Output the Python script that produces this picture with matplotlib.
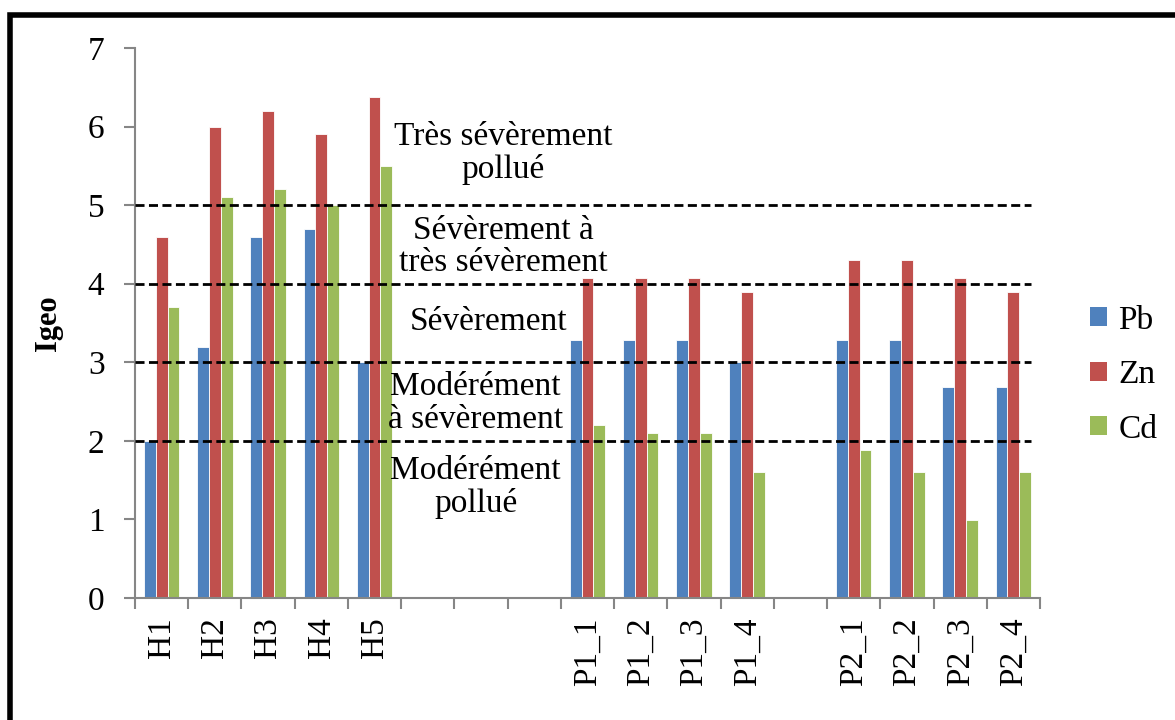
import matplotlib
matplotlib.use("Agg")
import matplotlib.pyplot as plt
from matplotlib.patches import Rectangle, Patch
import numpy as np

plt.rcParams['font.family'] = ['Liberation Serif', 'DejaVu Serif']

# Sampling sites (empty strings keep gaps between site groups)
sites = ["H1", "H2", "H3", "H4", "H5", "", "", "",
         "P1_1", "P1_2", "P1_3", "P1_4", "",
         "P2_1", "P2_2", "P2_3", "P2_4"]

pb = [2.0, 3.2, 4.6, 4.7, 3.0, None, None, None,
      3.28, 3.28, 3.28, 3.0, None,
      3.28, 3.28, 2.68, 2.68]
zn = [4.6, 6.0, 6.2, 5.9, 6.38, None, None, None,
      4.07, 4.07, 4.07, 3.89, None,
      4.3, 4.3, 4.07, 3.89]
cd = [3.7, 5.1, 5.2, 5.0, 5.5, None, None, None,
      2.2, 2.1, 2.1, 1.6, None,
      1.88, 1.6, 0.99, 1.6]

series_names = ["Pb", "Zn", "Cd"]
series_colors = ["#4F81BD", "#C0504D", "#9BBB59"]

class_limits = [2, 3, 4, 5]
class_labels = [
    (6.42, 5.66, "Très sévèrement\npollué"),
    (6.42, 4.47, "Sévèrement à\ntrès sévèrement"),
    (6.14, 3.51, "Sévèrement"),
    (5.9, 2.48, "Modérément\nà sévèrement"),
    (5.9, 1.41, "Modérément\npollué"),
]

FS = 24

fig = plt.figure(figsize=(11.75, 7.2), dpi=100)
ax = fig.add_axes([135 / 1175, 1 - 598 / 720, (1040 - 135) / 1175, (598 - 48) / 720])

n = len(sites)
x = np.arange(n)
w = 1 / 4.5
for k, (vals, col) in enumerate(zip([pb, zn, cd], series_colors)):
    xs = [xi + (k - 1) * w for xi, v in zip(x, vals) if v is not None]
    vs = [v for v in vals if v is not None]
    ax.bar(xs, vs, width=w, color=col, edgecolor="white", linewidth=0.6, zorder=2)

for lim in class_limits:
    ax.axhline(lim, xmax=0.99, color="black", linestyle=(0, (3.25, 1.6)),
               linewidth=2, zorder=3)

for xt, yt, txt in class_labels:
    ax.text(xt, yt, txt, ha="center", va="center", fontsize=FS,
            linespacing=1.1, zorder=4)

ax.set_xlim(-0.5, n - 0.5)
ax.set_ylim(0, 7)
ax.set_yticks(range(0, 8))
ax.set_xticks(np.arange(-0.5, n, 1.0))
ax.set_xticklabels([])
ax.set_xticks(x, minor=True)
ax.set_xticklabels(sites, minor=True, rotation=90, fontsize=FS)
ax.tick_params(axis="x", which="minor", length=0, pad=14)
ax.tick_params(axis="x", which="major", length=8, width=1.5, color="#868686")
ax.tick_params(axis="y", length=8, width=1.5, color="#868686", labelsize=FS, pad=14)

for s in ["top", "right"]:
    ax.spines[s].set_visible(False)
for s in ["left", "bottom"]:
    ax.spines[s].set_color("#868686")
    ax.spines[s].set_linewidth(1.5)

ax.set_ylabel("Igeo", fontsize=22, fontweight="bold", labelpad=18)

handles = [Patch(facecolor=c, edgecolor="none") for c in series_colors]
fig.legend(handles, series_names, loc="center left",
           bbox_to_anchor=(1090 / 1175, 1 - 375 / 720),
           frameon=False, fontsize=FS, handlelength=0.5, handleheight=0.5,
           handletextpad=0.35, labelspacing=0.72, borderpad=0, borderaxespad=0)

fig.patches.append(Rectangle((10 / 1175, -0.05), 1.2, 1 - 15 / 720 + 0.05,
                             transform=fig.transFigure, fill=False,
                             edgecolor="black", linewidth=4, zorder=10))

fig.savefig("out.png", dpi=100)
